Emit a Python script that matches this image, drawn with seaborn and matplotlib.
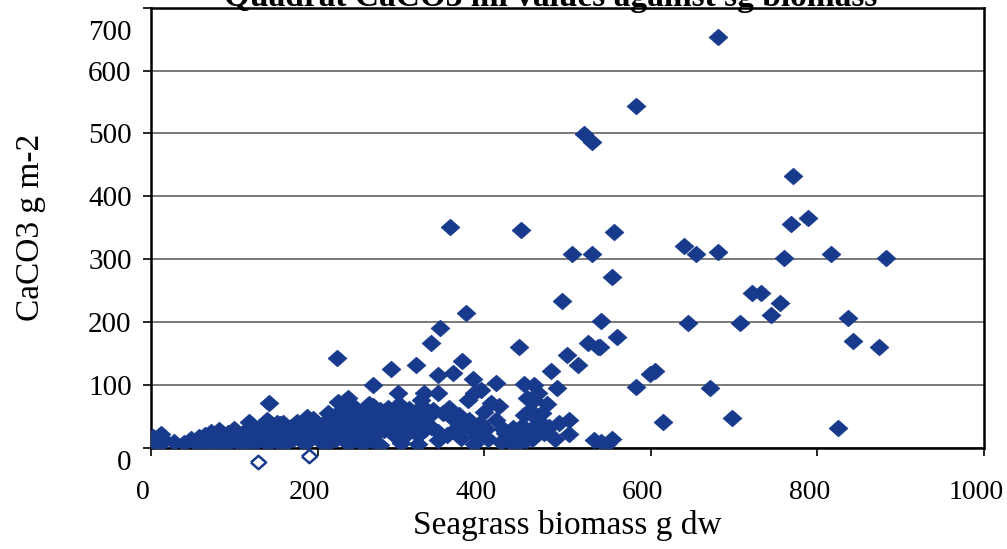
import matplotlib
matplotlib.use("Agg")
import matplotlib.pyplot as plt
import matplotlib.transforms as mtransforms
import seaborn as sns
import pandas as pd

# ---- data ----
biomass_upper = [681, 582, 520, 529, 771, 789, 768, 359, 444, 556, 640, 654, 681, 760, 817, 883,
                 505, 530, 553, 722, 733, 755, 745, 837, 645, 707, 540, 493, 378, 347, 336, 559,
                 539, 843, 874, 442, 525, 537, 500, 513, 373, 223, 288, 318, 599, 605, 582, 671,
                 615, 697, 825, 547, 553, 532, 540, 502, 502]
caco3_upper = [654, 543, 499, 487, 433, 366, 356, 352, 346, 343, 321, 308, 312, 302, 308, 302,
               309, 309, 272, 247, 247, 231, 212, 207, 199, 199, 202, 234, 215, 190, 167, 177,
               160, 170, 160, 160, 167, 161, 148, 132, 139, 143, 125, 132, 118, 122, 97, 95,
               42, 48, 32, 7, 15, 13, 10, 45, 23]

biomass_mid = [345, 363, 386, 414, 480, 448, 460, 488, 328, 344, 388, 396, 380, 452, 460, 408,
               418, 400, 448, 470, 351, 360, 368, 414, 462, 328, 336, 344, 344, 364, 376, 388,
               392, 388, 267, 297, 324, 225, 237, 240, 187, 159, 267, 275, 142, 118, 139, 151,
               2, 2, 27, 420, 428, 438, 445, 440, 432, 423, 450, 455]
caco3_mid = [116, 120, 110, 104, 123, 102, 100, 96, 87, 87, 87, 92, 76, 79, 76, 71,
             66, 58, 52, 56, 55, 50, 42, 44, 37, 39, 34, 26, 13, 29, 34, 26,
             18, 7, 100, 87, 76, 73, 79, 52, 50, 40, 66, 60, 71, 42, 44, 40,
             18, 0, 10, 10, 20, 26, 35, 15, 8, 30, 12, 20]

biomass_low = [10, 12, 15, 40, 48, 55, 58, 62, 65, 68, 70, 72, 75, 78, 80, 82, 85, 88, 90, 93,
               95, 98, 100, 103, 105, 108, 110, 112, 115, 118, 120, 122, 125, 128, 130, 132, 135,
               138, 140, 142, 145, 148, 150, 152, 155, 158, 160, 162, 165, 168, 170, 172, 175,
               178, 180, 182, 185, 188, 190, 192, 195, 198, 200, 202, 205, 208, 210, 212, 215,
               218, 220, 222, 225, 228, 230, 232, 235, 238, 240, 242, 245, 248, 250, 252, 255,
               258, 260, 262, 265, 268, 270, 272, 275, 278, 280, 282, 285, 288, 290, 292, 295,
               298, 300, 302, 305, 308, 310, 312, 315, 318, 320, 322, 325, 328, 332, 338, 355,
               358, 370, 372, 382, 395, 402, 405, 425, 430, 435, 440, 442, 452, 458, 465, 472,
               478, 485, 490, 455, 475, 465, 160, 185, 210, 235, 255, 275, 300, 320, 240, 265]
caco3_low = [5, 22, 12, 8, 14, 6, 18, 10, 20, 4, 15, 25, 8, 18, 12, 28, 6, 20, 14, 24,
             9, 17, 30, 12, 22, 5, 18, 26, 10, 20, 14, 30, 8, 24, 18, 35, 12,
             28, 6, 20, 32, 15, 25, 10, 38, 18, 28, 8, 22, 34, 14, 26, 42,
             18, 30, 10, 24, 36, 16, 28, 46, 20, 32, 12, 26, 40, 18, 55, 30,
             22, 44, 14, 34, 60, 24, 38, 16, 48, 28, 66, 36, 20, 44, 30, 56,
             24, 40, 70, 32, 50, 22, 42, 36, 58, 28, 46, 64, 34, 52, 20, 42,
             70, 30, 56, 38, 24, 62, 46, 32, 54, 20, 44, 66, 28, 50, 60, 20,
             64, 52, 16, 44, 40, 30, 14, 24, 12, 32, 20, 8, 28, 14, 44, 24,
             34, 14, 40, 60, 70, 88, 4, 6, 5, 8, 6, 4, 8, 6, 10, 12]

biomass_hollow = [128, 190]
caco3_hollow = [-23, -13]

x_ticks = [0, 200, 400, 600, 800, 1000]
y_ticks = [0, 100, 200, 300, 400, 500, 600, 700]

title = "Quadrat CaCO3 ml values against sg biomass"
xlabel = "Seagrass biomass g dw"
ylabel = "CaCO3 g m-2"

df = pd.DataFrame({
    "biomass": biomass_upper + biomass_mid + biomass_low,
    "caco3": caco3_upper + caco3_mid + caco3_low,
})
df_h = pd.DataFrame({"biomass": biomass_hollow, "caco3": caco3_hollow})

# ---- style ----
sns.set_style("white")
plt.rcParams["font.family"] = ["Liberation Serif", "DejaVu Serif"]
for key in ["text.color", "axes.labelcolor", "xtick.color", "ytick.color"]:
    plt.rcParams[key] = "black"

blue = "#173a8c"
diamond = [(-1.0, 0.0), (0.0, -0.88), (1.0, 0.0), (0.0, 0.88), (-1.0, 0.0)]

fig = plt.figure(figsize=(10.07, 5.49), dpi=100)
ax = fig.add_axes([0.150, 0.184, 0.827, 0.802])

sns.scatterplot(data=df, x="biomass", y="caco3", ax=ax, marker=diamond, s=185,
                color=blue, edgecolor=blue, linewidth=0.5, zorder=3)
sns.scatterplot(data=df_h, x="biomass", y="caco3", ax=ax, marker=diamond, s=120,
                facecolor="white", edgecolor=blue, linewidth=1.8, zorder=3,
                clip_on=False)

ax.set_xlim(0, 1000)
ax.set_ylim(0, 700)
ax.set_xticks(x_ticks)
ax.set_yticks(y_ticks)
ax.set_xticklabels([str(v) for v in x_ticks])
ax.set_yticklabels([str(v) for v in y_ticks])

ax.grid(axis="y", color="#7a7a7a", linewidth=1.4, zorder=0)
ax.grid(axis="x", visible=False)
ax.set_axisbelow(True)

for side in ["left", "bottom", "right", "top"]:
    ax.spines[side].set_visible(True)
    ax.spines[side].set_color("black")
    ax.spines[side].set_linewidth(1.8)

ax.tick_params(axis="x", direction="out", length=6, width=1.2, color="black",
               labelsize=20, pad=17)
ax.tick_params(axis="y", direction="out", length=6, width=1.2, color="black",
               labelsize=21, pad=8)
ax.tick_params(left=True, bottom=True)

# nudge labels as in the scanned original
shift_x = mtransforms.ScaledTranslation(-8 / 100, 0, fig.dpi_scale_trans)
for lab in ax.get_xticklabels():
    lab.set_transform(lab.get_transform() + shift_x)
ylabels = ax.get_yticklabels()
ylabels[-1].set_transform(ylabels[-1].get_transform() +
                          mtransforms.ScaledTranslation(0, -22 / 100, fig.dpi_scale_trans))
ylabels[0].set_transform(ylabels[0].get_transform() +
                         mtransforms.ScaledTranslation(0, -12 / 100, fig.dpi_scale_trans))

ax.set_xlabel(xlabel, fontsize=24, labelpad=4)
ax.set_ylabel(ylabel, fontsize=24, labelpad=30)

fig.text(0.547, 1 - 6 / 549, title, ha="center", va="baseline",
         fontsize=24, fontweight="bold")

fig.savefig("out.png", dpi=100)
